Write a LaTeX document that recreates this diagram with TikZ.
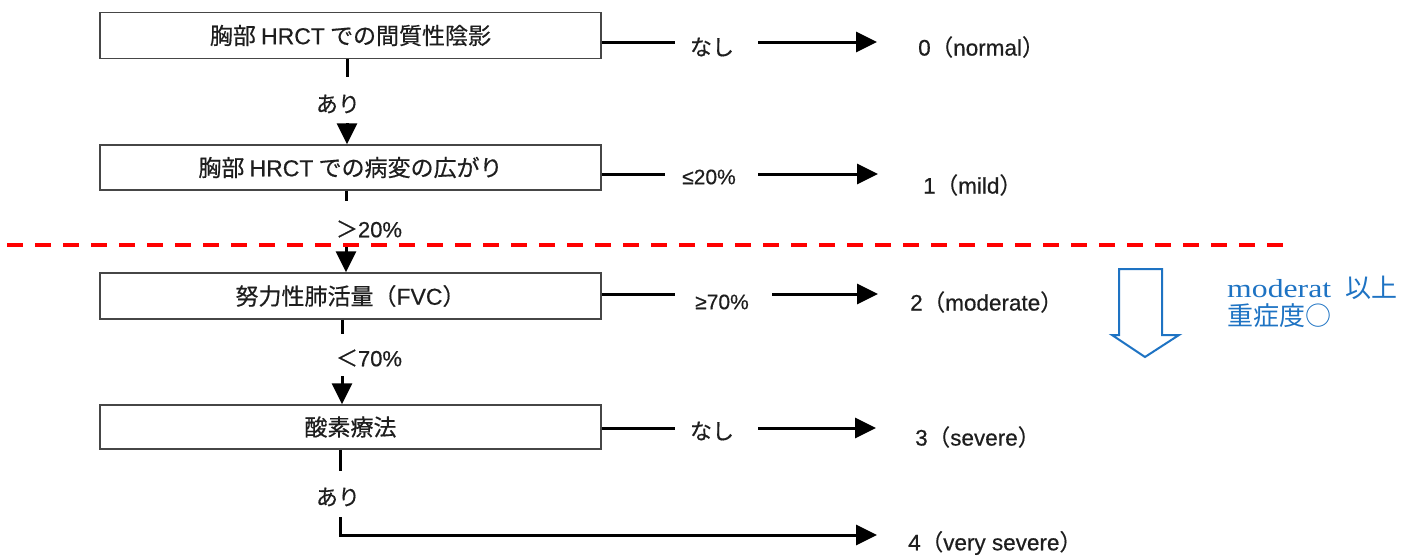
\documentclass[tikz,border=0pt]{standalone}
\usepackage{fontspec}
\usepackage{graphicx}
\setmainfont{Noto Sans CJK JP}[FakeBold=0.5]
\newfontfamily\latf{Liberation Sans}[FakeBold=0.5]
\newfontfamily\serifl{Liberation Serif}
\newfontfamily\jpthin{Noto Sans CJK JP}
\usetikzlibrary{arrows.meta}
\definecolor{boxgray}{RGB}{70,70,70}
\definecolor{txtgray}{RGB}{30,30,30}
\definecolor{markblue}{RGB}{30,115,195}
\begin{document}
\begin{tikzpicture}[x=1pt,y=-1pt,
  box/.style={draw=boxgray, line width=1.5pt, minimum width=501pt, minimum height=46pt, inner sep=0pt, text=txtgray, font=\fontsize{23}{26}\selectfont},
  conn/.style={line width=3pt, draw=black},
  arr/.style={-{Triangle[length=21pt,width=20pt]}},
  lbl/.style={inner sep=0pt, text=txtgray, font=\fontsize{22}{24}\selectfont},
  res/.style={anchor=west, inner sep=0pt, text=txtgray, font=\fontsize{22.5}{25}\selectfont}]
\useasboundingbox (0,0) rectangle (1422,557);

% boxes
\node[box] (b1) at (350.5,35.5) {胸部 {\latf HRCT} での間質性陰影};
\node[box, minimum height=45pt] (b2) at (350.5,167.5) {胸部 {\latf HRCT} での病変の広がり};
\node[box] (b3) at (350.5,296) {努力性肺活量（{\latf FVC}）};
\node[box, minimum height=44pt] (b4) at (350.5,427) {酸素療法};

% vertical labels
\node[lbl] (y1) at (338,104) {あり};
\node[lbl] (g20) at (369,229) {＞{\latf 20\%}};
\node[lbl] (l70) at (369,358) {＜{\latf 70\%}};
\node[lbl] (y4) at (338,497) {あり};

% results
\node[res] (r0) at (918,47) {{\latf 0}（{\latf normal}）};
\node[res] (r1) at (923,185) {{\latf 1}（{\latf mild}）};
\node[res] (r2) at (910,302) {{\latf 2}（{\latf moderate}）};
\node[res] (r3) at (915,437) {{\latf 3}（{\latf severe}）};
\node[res] (r4) at (908,543) {{\latf 4}（{\latf very severe}）};

% horizontal labels
\node[lbl] (n0) at (712,47) {なし};
\node[lbl, font=\fontsize{21}{24}\selectfont\latf] (n1) at (709,177) {≤20\%};
\node[lbl, font=\fontsize{21}{24}\selectfont\latf] (n2) at (722,302) {≥70\%};
\node[lbl] (n3) at (712,431) {なし};

% vertical connectors
\coordinate (a1s) at (347,123);
\coordinate (a2s) at (346,245);
\coordinate (a3s) at (342,376);
\coordinate (a4s) at (340,517);
\coordinate (a4c) at (340,535);
\draw[conn] (b1.south -| a1s) -- ++(0,18);
\draw[conn,arr] (a1s) -- (a1s |- b2.north);
\draw[conn] (b2.south -| a2s) -- ++(0,10);
\draw[conn,arr] (a2s) -- (a2s |- b3.north);
\draw[conn] (b3.south -| a3s) -- ++(0,14);
\draw[conn,arr] (a3s) -- (a3s |- b4.north);
\draw[conn] (b4.south -| a4s) -- ++(0,21);
\draw[conn,arr,line join=miter] (a4s) -- (a4c) -- (a4c -| 877,0);

% horizontal connectors
\draw[conn] (b1.east |- 0,42) -- (675,42);
\draw[conn,arr] (758,42) -- (877,42);
\draw[conn] (b2.east |- 0,174) -- (665,174);
\draw[conn,arr] (758,174) -- (878,174);
\draw[conn] (b3.east |- 0,294) -- (675,294);
\draw[conn,arr] (772,294) -- (878,294);
\draw[conn] (b4.east |- 0,428) -- (675,428);
\draw[conn,arr] (758,428) -- (876,428);

% red dashed separator
\draw[red, line width=4pt, dash pattern=on 16pt off 12pt] (7,245) -- (1283,245);

% blue hollow arrow
\draw[markblue, line width=2pt, line join=miter] (1119,269) -- (1162,269) -- (1162,335) -- (1179,335) -- (1145,357) -- (1112,335) -- (1119,335) -- cycle;

% blue text
\node[anchor=base west, inner sep=0pt, text=markblue] (bt1) at (1227,297)
  {\scalebox{1.22}[1]{\fontsize{26}{28}\selectfont\serifl moderat}\hspace{14pt}{\fontsize{26}{28}\selectfont\jpthin 以上}};
\node[anchor=base west, inner sep=0pt, text=markblue] (bt2) at (1227,325)
  {\fontsize{26}{28}\selectfont\jpthin 重症度○};
\end{tikzpicture}
\end{document}
